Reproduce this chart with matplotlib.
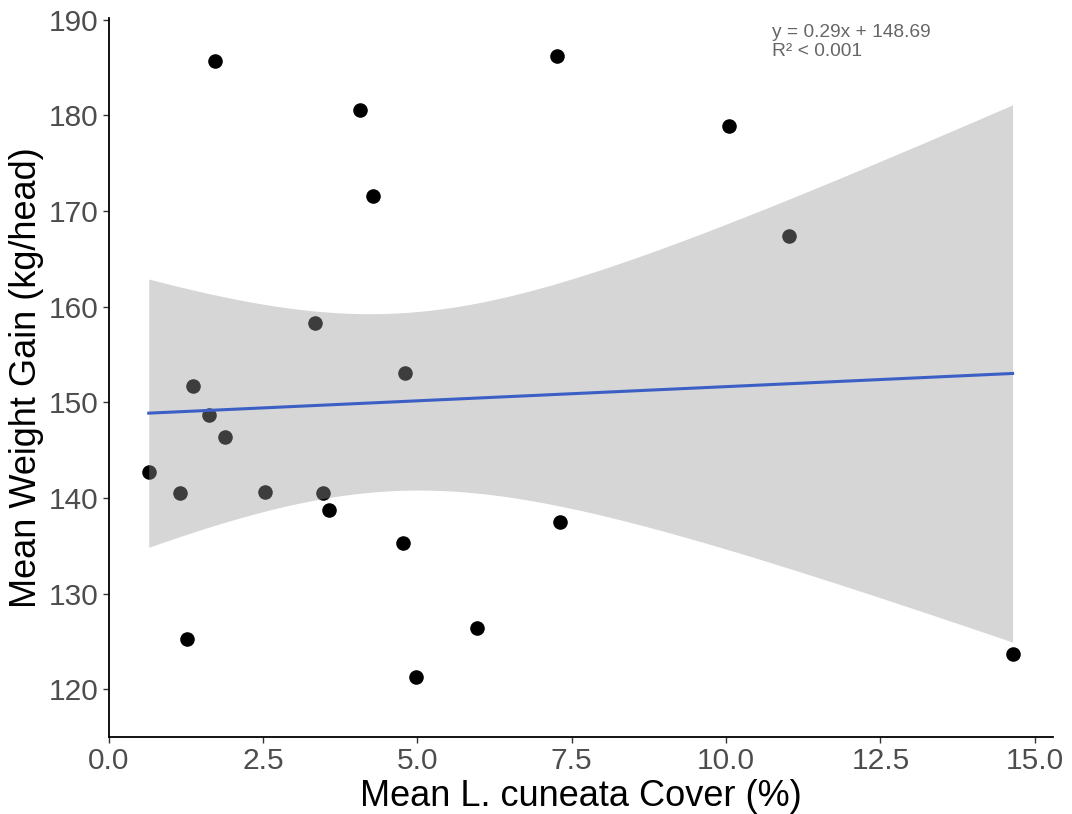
import numpy as np
import matplotlib
matplotlib.use('Agg')
import matplotlib.pyplot as plt

# valores
cover = [0.65, 1.16, 1.27, 1.37, 1.62, 1.72, 1.89, 2.53, 3.34, 3.47, 3.57,
         4.07, 4.28, 4.77, 4.80, 4.98, 5.97, 7.27, 7.31, 10.04, 11.02, 14.64]
gain = [142.7, 140.5, 125.2, 151.7, 148.7, 185.7, 146.4, 140.6, 158.3, 140.5, 138.7,
        180.6, 171.6, 135.3, 153.1, 121.3, 126.4, 186.2, 137.5, 178.9, 167.4, 123.7]
eq_label = 'y = 0.29x + 148.69\nR² < 0.001'
x_ticks = [0.0, 2.5, 5.0, 7.5, 10.0, 12.5, 15.0]
y_ticks = [120, 130, 140, 150, 160, 170, 180, 190]

plt.rcParams['font.family'] = ['Liberation Sans', 'DejaVu Sans']

x = np.array(cover)
y = np.array(gain)
n = len(x)

# ajuste linear e intervalo de confiança de 95% (como geom_smooth(method='lm'))
slope, intercept = np.polyfit(x, y, 1)
resid = y - (slope * x + intercept)
s = np.sqrt(np.sum(resid ** 2) / (n - 2))
xbar = x.mean()
sxx = np.sum((x - xbar) ** 2)
t_crit = 2.086  # t 0.975, gl = 20
xs = np.linspace(x.min(), x.max(), 80)
ys = slope * xs + intercept
se = s * np.sqrt(1 / n + (xs - xbar) ** 2 / sxx)

fig = plt.figure(figsize=(10.72, 8.14), dpi=100)
ax = fig.add_axes([0.1013, 0.0946, 0.8807, 0.8834])

ax.scatter(x, y, s=110, color='black', zorder=2, linewidths=0)
ax.fill_between(xs, ys - t_crit * se, ys + t_crit * se, color='#999999', alpha=0.4,
                linewidth=0, zorder=3)
ax.plot(xs, ys, color='#3b5fc4', linewidth=2.2, zorder=4)

ax.text(10.75, 189.6, eq_label, ha='left', va='top', fontsize=13.8, color='#666666',
        linespacing=1.2)

ax.set_xlim(0, 15.29)
ax.set_ylim(115, 190.2)
ax.set_xticks(x_ticks)
ax.set_xticklabels([f'{v:.1f}' for v in x_ticks])
ax.set_yticks(y_ticks)

for sp in ['top', 'right']:
    ax.spines[sp].set_visible(False)
for sp in ['left', 'bottom']:
    ax.spines[sp].set_linewidth(1.3)
    ax.spines[sp].set_color('black')

ax.tick_params(axis='both', labelsize=21.5, labelcolor='#4d4d4d', color='#333333',
               length=4, width=1, pad=3)
ax.set_xlabel('Mean L. cuneata Cover (%)', fontsize=26, color='black', labelpad=3)
ax.set_ylabel('Mean Weight Gain (kg/head)', fontsize=26, color='black', labelpad=4)

fig.savefig('out.png', dpi=100)
